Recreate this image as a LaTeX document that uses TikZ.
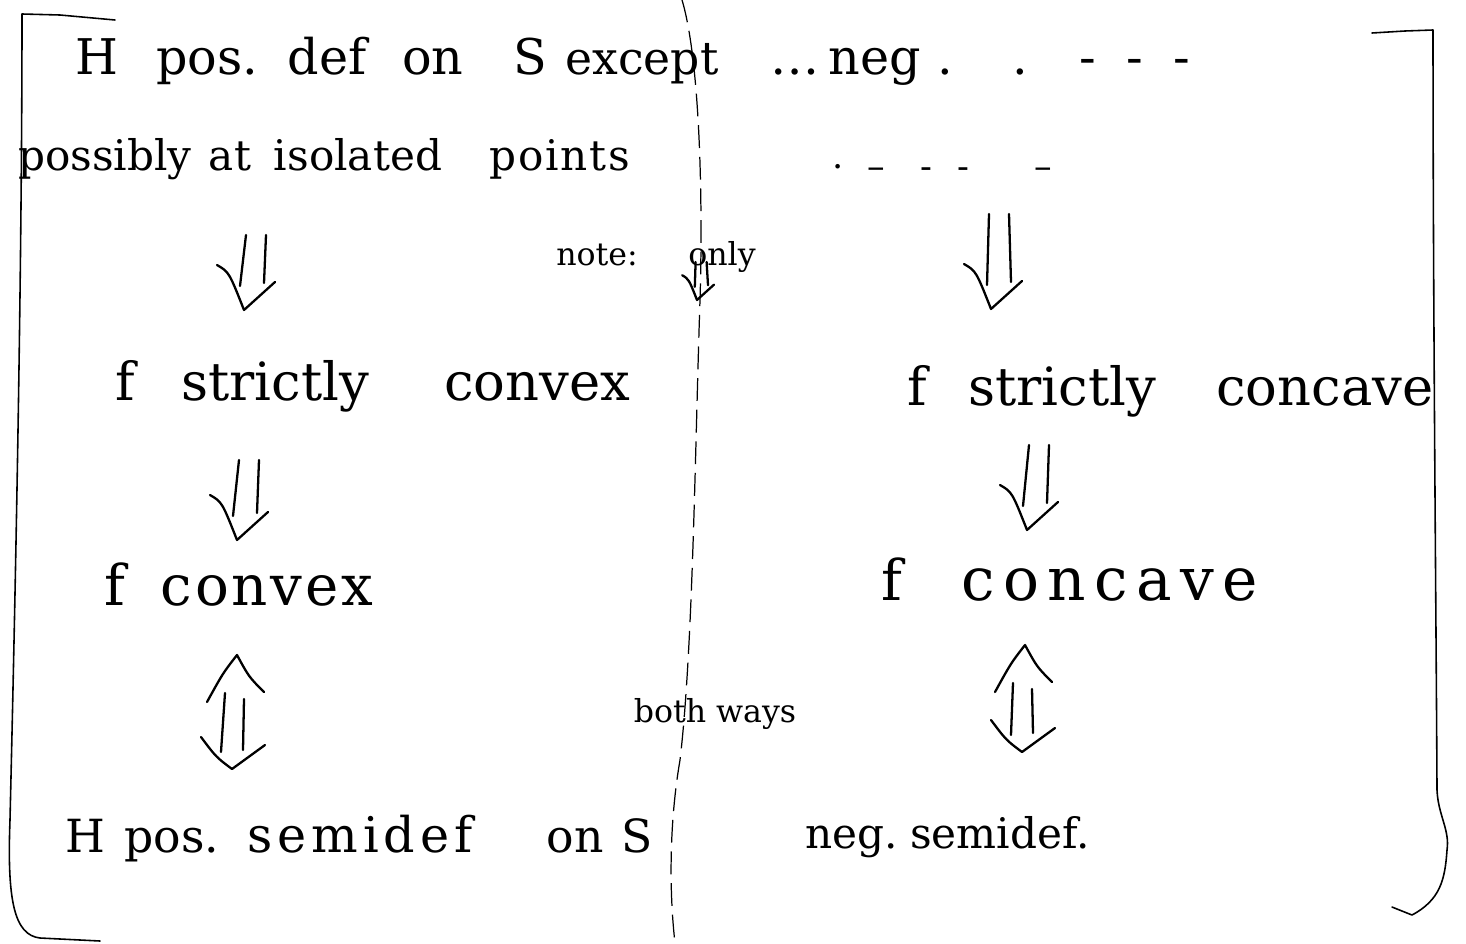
\documentclass[tikz,border=0pt]{standalone}
\usepackage{fontspec}
\setmainfont{DejaVu Serif}
\usetikzlibrary{calc}

\tikzset{
  pen/.style={line width=1.3pt, line cap=round, line join=round},
  frame/.style={line width=0.9pt, line cap=round, line join=round},
  divider/.style={line width=0.7pt, dash pattern=on 13pt off 5pt},
  word/.style={anchor=base, inner sep=0pt, outer sep=0pt},
  big/.style={word, font=\fontsize{28}{30}\selectfont},
  mid/.style={word, font=\fontsize{24}{26}\selectfont},
  midbig/.style={word, font=\fontsize{26}{28}\selectfont},
  large/.style={word, font=\fontsize{30}{32}\selectfont},
  huge/.style={word, font=\fontsize{32}{34}\selectfont},
  hugest/.style={word, font=\fontsize{34}{36}\selectfont},
  low/.style={word, font=\fontsize{26}{28}\selectfont},
  lowbig/.style={word, font=\fontsize{28}{30}\selectfont},
  lowish/.style={word, font=\fontsize{24}{26}\selectfont},
  small/.style={word, font=\fontsize{18}{20}\selectfont},
  dashmark/.style={word, font=\fontsize{20}{22}\selectfont},
}

% letters set a little apart, as in a wide hand
\newcommand\wide[2]{{\def\sep{\hspace{#1}}\widerun#2\relax}}
\def\widerun#1{\ifx#1\relax\else#1\expandafter\widenext\fi}
\def\widenext#1{\ifx#1\relax\else\sep#1\expandafter\widenext\fi}

% hand-drawn "implies" arrow pointing down: #1 top, #2 tip, #3 scale
\newcommand\downimp[3]{%
  \draw[pen] ([shift={(-8*#3,0)}]#1) -- ([shift={(-4*#3,-24*#3)}]#2);
  \draw[pen] ([shift={(12*#3,0)}]#1) -- ([shift={(20*#3,-27*#3)}]#2);
  \draw[pen] ([shift={(-27*#3,-45*#3)}]#2) .. controls ([shift={(-15*#3,-38*#3)}]#2) .. (#2)
             -- ([shift={(31*#3,-28*#3)}]#2);
}
% hand-drawn two-way "implies" arrow: #1 upper tip, #2 lower tip
\newcommand\bothimp[2]{%
  \draw[pen] ([shift={(-30,47)}]#1) .. controls ([shift={(-14,18)}]#1) .. (#1)
             .. controls ([shift={(12,22)}]#1) .. ([shift={(27,37)}]#1);
  \draw[pen] ([shift={(-12,38)}]#1) -- ([shift={(-11,-17)}]#2);
  \draw[pen] ([shift={(7,44)}]#1) -- ([shift={(11,-19)}]#2);
  \draw[pen] ([shift={(-31,-32)}]#2) .. controls ([shift={(-16,-12)}]#2) .. (#2)
             -- ([shift={(33,-24)}]#2);
}

\begin{document}
\begin{tikzpicture}[x=0.02cm, y=-0.02cm]
  \path[use as bounding box] (0,0) rectangle (1466,943);

  % left bracket
  \draw[frame] (115,20) -- (60,15) -- (22,14)
    .. controls (22,300) and (14,650) .. (10,820)
    .. controls (7,900) and (14,935) .. (40,938) -- (100,941);
  % right bracket
  \draw[frame] (1372,33) -- (1405,31) -- (1433,30)
    .. controls (1433,300) and (1436,600) .. (1437,790)
    .. controls (1438,815) and (1450,830) .. (1447,850)
    .. controls (1445,880) and (1440,900) .. (1412,915) -- (1392,907);
  % dividing line between the two columns
  \draw[divider] (682,0) .. controls (700,60) and (703,200) .. (700,300)
    .. controls (695,450) and (693,650) .. (680,760)
    .. controls (668,830) and (670,900) .. (675,943);

  % first row
  \node[big] (h1)   at (97,74)  {H};
  \node[big] (pos1) at (207,74) {pos.};
  \node[big] (def1) at (327,74) {def};
  \node[big] (on1)  at (433,74) {on};
  \node[big] (s1)   at (530,74) {S};
  \node[midbig] (exc) at (642,74) {except};
  \node[big] (dots) at (795,74) {\ldots};
  \node[big] (neg1) at (875,74) {neg};
  \foreach \px/\t [count=\i] in {945/., 1020/., 1088/-, 1135/-, 1182/-}
    \node[big] (m\i) at (\px,74) {\t};

  % second row
  \node[mid] (possibly) at (105,170) {possibly};
  \node[mid] (at)       at (230,170) {at};
  \node[mid] (isol)     at (358,170) {isolated};
  \node[mid] (points)   at (560,170) {\wide{.04em}{points}};
  \node[dashmark] (d1) at (838,168) {.};
  \node[dashmark] (d2) at (876,178) {--};
  \node[dashmark] (d3) at (926,178) {-};
  \node[dashmark] (d4) at (963,178) {-};
  \node[dashmark] (d5) at (1043,178) {--};

  % note in the middle
  \node[small] (note) at (597,265) {note:};
  \node[small] (only) at (722,265) {only};

  % third row
  \node[large] (f1)    at (125,400)  {f};
  \node[large] (str1)  at (275,400)  {strictly};
  \node[large] (cvx1)  at (537,400)  {convex};
  \node[large] (f2)    at (917,405)  {f};
  \node[large] (str2)  at (1062,405) {strictly};
  \node[large] (ccv1)  at (1325,405) {concave};

  % fourth row
  \node[huge] (f3)   at (115,605)  {f};
  \node[huge] (cvx2) at (267,605)  {\wide{.05em}{convex}};
  \node[huge] (f4)   at (892,600)  {f};
  \node[hugest] (ccv2) at (1110,600) {\wide{.14em}{concave}};

  \node[small] (both) at (715,722) {both ways};

  % fifth row
  \node[low] (h2)   at (85,852)  {H};
  \node[low] (pos2) at (172,852) {pos.};
  \node[lowbig] (semi) at (360,852) {\wide{.1em}{semidef}};
  \node[low] (on2)  at (575,852) {on};
  \node[low] (s2)   at (637,852) {S};
  \node[lowish] (neg2) at (852,848) {neg.};
  \node[lowish] (semn) at (1000,848) {semidef.};

  % arrow end points
  \coordinate (a1t) at (254,235);  \coordinate (a1h) at (244,310);
  \coordinate (a2t) at (997,214);  \coordinate (a2h) at (991,309);
  \coordinate (a3t) at (700,262);  \coordinate (a3h) at (697,300);
  \coordinate (a4t) at (247,460);  \coordinate (a4h) at (237,540);
  \coordinate (a5t) at (1037,445); \coordinate (a5h) at (1027,530);
  \coordinate (b1t) at (237,655);  \coordinate (b1h) at (232,769);
  \coordinate (b2t) at (1025,645); \coordinate (b2h) at (1022,752);

  \downimp{a1t}{a1h}{1}
  \downimp{a2t}{a2h}{1}
  \downimp{a3t}{a3h}{0.55}
  \downimp{a4t}{a4h}{1}
  \downimp{a5t}{a5h}{1}
  \bothimp{b1t}{b1h}
  \bothimp{b2t}{b2h}
\end{tikzpicture}
\end{document}
